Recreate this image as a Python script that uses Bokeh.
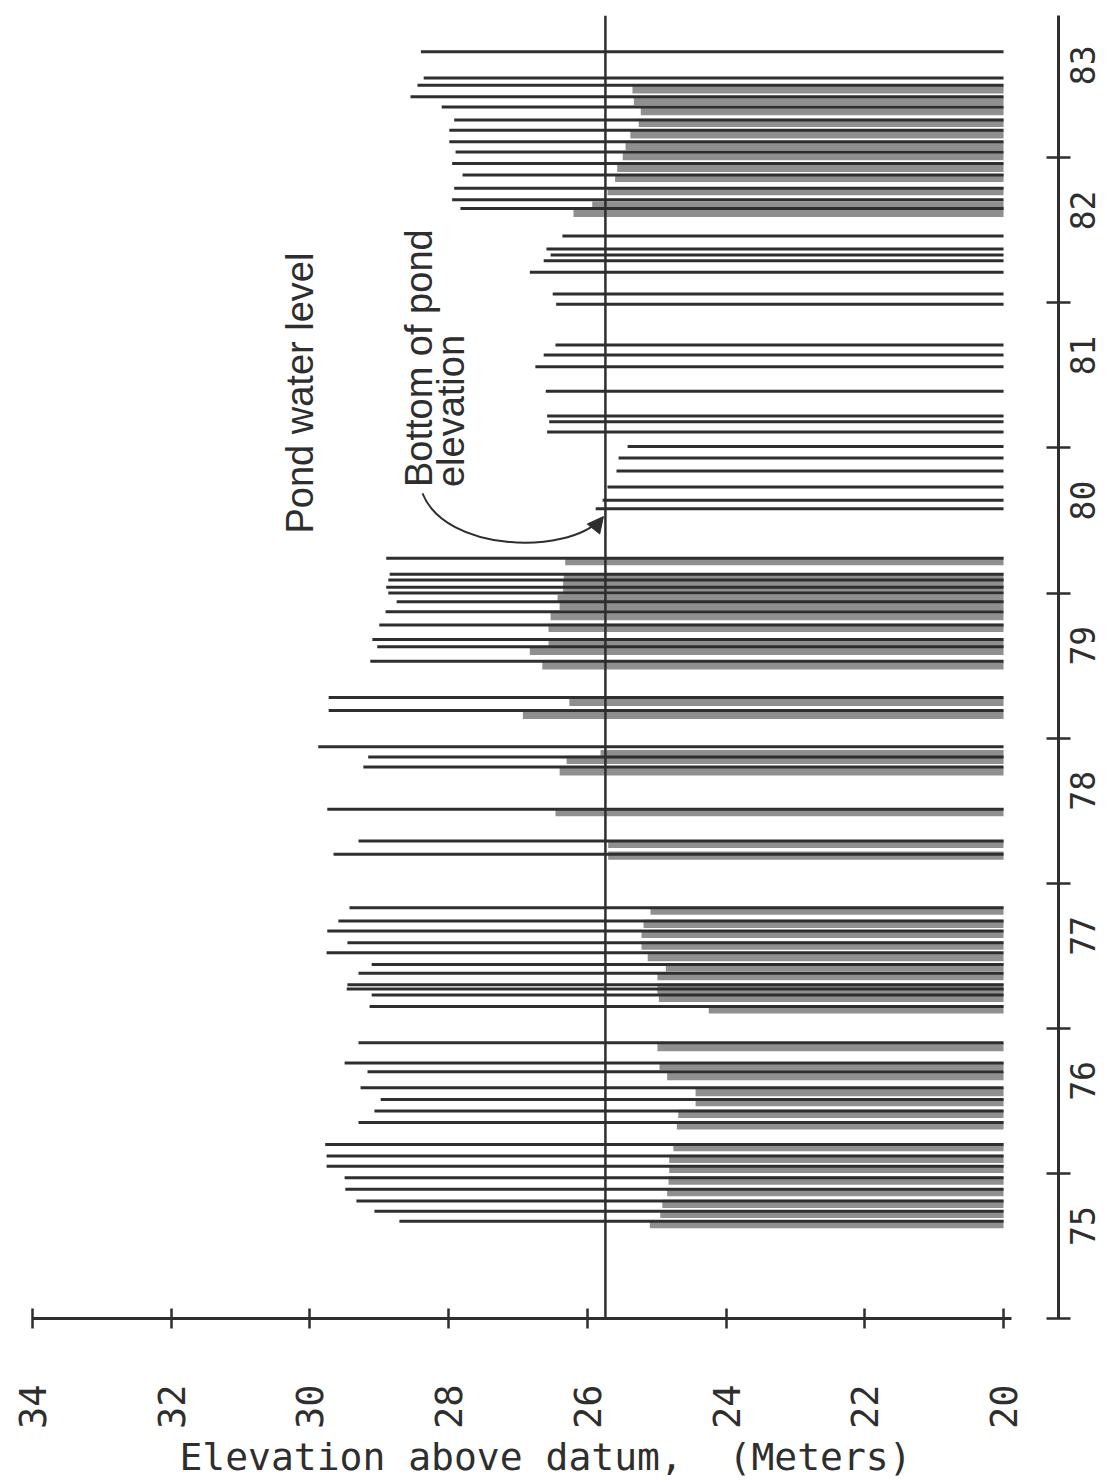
import math
from bokeh.plotting import figure
from bokeh.models import Range1d, FixedTicker, Span, Arrow, NormalHead, ColumnDataSource
from bokeh.core.properties import value
from bokeh.embed import file_html
from bokeh.resources import INLINE

# ---- data ----
# Pond water level (black lines): time (decimal year) and elevation (m)
pond_time = [1975.67, 1975.74, 1975.81, 1975.89, 1975.97, 1976.05, 1976.12, 1976.20,
             1976.35, 1976.43, 1976.51, 1976.59, 1976.70, 1976.76, 1976.90,
             1977.15, 1977.23, 1977.27, 1977.30, 1977.38, 1977.44, 1977.52, 1977.59,
             1977.67, 1977.74, 1977.83,
             1978.20, 1978.29, 1978.51, 1978.80, 1978.87, 1978.94, 1979.19, 1979.28,
             1979.53, 1979.63, 1979.68, 1979.78, 1979.87, 1979.94, 1980.00, 1980.04,
             1980.09, 1980.13, 1980.24,
             1980.58, 1980.64, 1980.73, 1980.84, 1980.93, 1981.01,
             1981.11, 1981.18, 1981.22, 1981.39, 1981.56, 1981.64, 1981.71, 1981.99,
             1982.06,
             1982.21, 1982.29, 1982.33, 1982.37, 1982.46, 1982.65, 1982.71, 1982.79,
             1982.88, 1982.96, 1983.04, 1983.11, 1983.19, 1983.26, 1983.35, 1983.42,
             1983.50, 1983.55, 1983.73]
pond_level = [28.71, 29.07, 29.33, 29.49, 29.50, 29.76, 29.76, 29.78,
              29.30, 29.07, 28.98, 29.27, 29.17, 29.50, 29.30,
              29.14, 29.11, 29.47, 29.46, 29.30, 29.11, 29.76, 29.46,
              29.75, 29.59, 29.43,
              29.66, 29.30, 29.75, 29.23, 29.16, 29.88, 29.73, 29.73,
              29.13, 29.03, 29.10, 29.00, 28.91, 28.75, 28.87, 28.90,
              28.87, 28.85, 28.90,
              25.88, 25.78, 25.71, 25.58, 25.55, 25.42,
              26.58, 26.55, 26.58, 26.60, 26.75, 26.63, 26.46, 26.45,
              26.50,
              26.83, 26.63, 26.53, 26.59, 26.36, 27.83, 27.95, 27.92,
              27.80, 27.95, 27.90, 27.99, 27.99, 27.92, 28.10, 28.55,
              28.45, 28.36, 28.40]

# Shaded (gray) series: time (decimal year) and elevation (m)
shade_time = [1975.65, 1975.72, 1975.79, 1975.87, 1975.95, 1976.03, 1976.10, 1976.18,
              1976.33, 1976.41, 1976.49, 1976.56, 1976.67, 1976.74, 1976.87,
              1977.13, 1977.21, 1977.25, 1977.28, 1977.36, 1977.42, 1977.49, 1977.57,
              1977.65, 1977.72, 1977.81,
              1978.19, 1978.27, 1978.49, 1978.77, 1978.85, 1978.89, 1979.16, 1979.25,
              1979.50, 1979.60, 1979.65, 1979.76, 1979.84, 1979.91, 1979.96, 1980.02,
              1980.07, 1980.11, 1980.22,
              1982.62, 1982.67, 1982.77, 1982.86, 1982.93, 1983.01, 1983.08, 1983.16,
              1983.24, 1983.32, 1983.39, 1983.47]
shade_level = [25.10, 24.95, 24.92, 24.85, 24.83, 24.82, 24.82, 24.76,
               24.71, 24.69, 24.44, 24.44, 24.85, 24.96, 24.99,
               24.25, 24.97, 24.99, 24.99, 24.99, 24.87, 25.13, 25.22,
               25.22, 25.19, 25.09,
               25.70, 25.70, 26.46, 26.40, 26.30, 25.81, 26.93, 26.26,
               26.65, 26.83, 26.56, 26.56, 26.53, 26.40, 26.43, 26.35,
               26.35, 26.34, 26.32,
               26.20, 25.93, 25.71, 25.60, 25.57, 25.49, 25.45, 25.38,
               25.26, 25.23, 25.33, 25.35]

pond_bottom = 25.74
datum = 20.0
elev_ticks = [20, 22, 24, 26, 28, 30, 32, 34]
year_bounds = [1975, 1976, 1977, 1978, 1979, 1980, 1981, 1982, 1983]
year_mid = [1975.5, 1976.5, 1977.5, 1978.5, 1979.5, 1980.5, 1981.5, 1982.5, 1983.5]
year_labels = ["75", "76", "77", "78", "79", "80", "81", "82", "83"]

INK = "#2e2e2e"
MONO = "DejaVu Sans Mono"
SANS = "Liberation Sans"

px_per_m = 69.36
px_per_yr = 145.1
FW, FH = 1026, 1303

p = figure(frame_width=FW, frame_height=FH,
           x_range=Range1d(34, 34 - FW / px_per_m),
           y_range=Range1d(1975, 1975 + FH / px_per_yr),
           y_axis_location="right", x_axis_location="below",
           output_backend="svg", toolbar_location=None,
           min_border_left=32, min_border_top=15, min_border_right=0,
           min_border_bottom=0,
           background_fill_color="white", border_fill_color="white")
p.outline_line_color = None
p.grid.visible = False

shade = ColumnDataSource(dict(t=shade_time, v=shade_level))
pond = ColumnDataSource(dict(t=pond_time, v=pond_level))

p.hbar(y="t", left=datum, right="v", height=0.056, source=shade,
       fill_color="#8f8f8f", line_color=None)
p.segment(x0=datum, y0="t", x1="v", y1="t", source=pond,
          line_color=INK, line_width=3)

p.add_layout(Span(location=pond_bottom, dimension="height",
                  line_color=INK, line_width=2.5))

# annotations
p.text(x=[30.14], y=[1980.41], text=["Pond water level"], angle=math.pi / 2,
       text_align="left", text_baseline="middle",
       text_font=value(SANS), text_font_size="38px", text_color=INK)
p.text(x=[28.43], y=[1980.73], text=["Bottom of pond"], angle=math.pi / 2,
       text_align="left", text_baseline="middle",
       text_font=value(SANS), text_font_size="38px", text_color=INK)
p.text(x=[27.96], y=[1980.73], text=["elevation"], angle=math.pi / 2,
       text_align="left", text_baseline="middle",
       text_font=value(SANS), text_font_size="38px", text_color=INK)
p.bezier(x0=[28.377], y0=[1980.686], x1=[25.811], y1=[1980.507],
         cx0=[28.046], cy0=[1980.286], cx1=[26.316], cy1=[1980.258],
         line_color=INK, line_width=2)
p.add_layout(Arrow(end=NormalHead(size=16, fill_color=INK, line_color=INK),
                   x_start=25.83, y_start=1980.49, x_end=25.768, y_end=1980.527,
                   line_color=INK, line_width=2))

# elevation axis (bottom)
xa = p.xaxis[0]
xa.ticker = FixedTicker(ticks=elev_ticks, minor_ticks=[])
xa.bounds = (19.88, 34)
xa.axis_line_width = 3
xa.axis_line_color = INK
xa.major_tick_in = 10
xa.major_tick_out = 10
xa.major_tick_line_width = 2.5
xa.major_tick_line_color = INK
xa.minor_tick_line_color = None
xa.major_label_orientation = math.pi / 2
xa.major_label_standoff = 56
xa.major_label_text_font = MONO
xa.major_label_text_font_size = "37px"
xa.major_label_text_color = INK
xa.axis_label = "Elevation above datum,\u00a0 (Meters)"
xa.axis_label_text_font = MONO
xa.axis_label_text_font_size = "38px"
xa.axis_label_text_font_style = "normal"
xa.axis_label_text_color = INK
xa.axis_label_standoff = 3

# year axis (right)
ya = p.yaxis[0]
ya.ticker = FixedTicker(ticks=year_mid, minor_ticks=year_bounds)
ya.major_label_overrides = {m: lab for m, lab in zip(year_mid, year_labels)}
ya.axis_line_width = 3
ya.axis_line_color = INK
ya.major_tick_line_color = None
ya.major_tick_in = 0
ya.major_tick_out = 0
ya.minor_tick_in = 12
ya.minor_tick_out = 12
ya.minor_tick_line_width = 2.5
ya.minor_tick_line_color = INK
ya.major_label_orientation = math.pi / 2
ya.major_label_standoff = 12
ya.major_label_text_font = MONO
ya.major_label_text_font_size = "33px"
ya.major_label_text_color = INK

open("out.html", "w").write(file_html(p, INLINE))
